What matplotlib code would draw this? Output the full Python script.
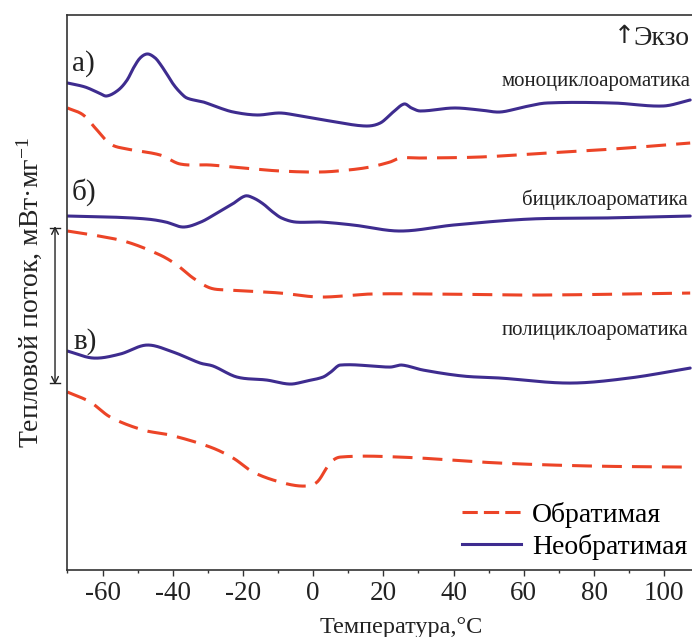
import numpy as np
import matplotlib
matplotlib.use("Agg")
import matplotlib.pyplot as plt
from matplotlib.lines import Line2D
from matplotlib.ticker import MultipleLocator

plt.rcParams['font.family'] = ['Liberation Serif', 'DejaVu Serif']
plt.rcParams['mathtext.fontset'] = 'custom'
plt.rcParams['mathtext.rm'] = 'Liberation Serif'
plt.rcParams['mathtext.it'] = 'Liberation Serif'
plt.rcParams['axes.unicode_minus'] = False

# --- DSC traces (temperature, °C / heat flow, shifted arbitrary units) ---
# а) моноциклоароматика
t_a_irr = [-70, -65, -61, -58.8, -55.5, -53, -51.2, -49.3, -47.2, -45, -43.6, -41.7,
           -39.9, -38, -36, -31.3, -27.4, -22.8, -16, -9.4, -3.7, 4.8, 14.8, 19.1,
           22.8, 25.9, 28, 30.5, 40, 47.6, 53.3, 60, 66.6, 85.5, 99.7, 107.4]
q_a_irr = [5.17, 5.13, 5.07, 5.04, 5.10, 5.20, 5.32, 5.42, 5.46, 5.42, 5.36, 5.26,
           5.16, 5.08, 5.02, 4.98, 4.93, 4.88, 4.85, 4.87, 4.84, 4.79, 4.74, 4.77,
           4.88, 4.96, 4.92, 4.89, 4.92, 4.90, 4.88, 4.93, 4.97, 4.97, 4.94, 5.00]
t_a_rev = [-70, -65.5, -61.6, -57.8, -53, -43.6, -37.9, -29.3, -19.9, -9.4, 2, 10,
           16.2, 21.9, 24.8, 30.5, 47.6, 66.6, 85.5, 107.4]
q_a_rev = [4.92, 4.85, 4.70, 4.56, 4.51, 4.45, 4.36, 4.35, 4.32, 4.29, 4.28, 4.30,
           4.33, 4.38, 4.42, 4.42, 4.43, 4.47, 4.51, 4.57]

# б) бициклоароматика
t_b_irr = [-70, -57.8, -47.4, -42, -37, -32, -27.4, -23, -19.4, -17, -14.2, -11.5,
           -9, -5.1, 2, 11.4, 24.8, 40, 61.8, 82.6, 107.4]
q_b_irr = [3.84, 3.83, 3.81, 3.78, 3.73, 3.78, 3.87, 3.96, 4.04, 4.02, 3.96, 3.88,
           3.82, 3.78, 3.78, 3.75, 3.69, 3.75, 3.81, 3.82, 3.84]
t_b_rev = [-70, -62.6, -53, -43.6, -38.8, -34.2, -29.3, -24, -18.9, -9.4, 2, 16.2,
           35.2, 63.7, 107.4]
q_b_rev = [3.69, 3.65, 3.58, 3.45, 3.35, 3.22, 3.12, 3.10, 3.09, 3.07, 3.03, 3.06,
           3.06, 3.05, 3.07]

# в) полициклоароматика
t_c_irr = [-70, -62.6, -55, -47.4, -39.9, -32.2, -28.5, -21.7, -13.2, -6.6, -2, 2.8,
           5, 7.7, 21.9, 25.3, 31.3, 42.7, 53.3, 73, 90, 107.4]
q_c_irr = [2.49, 2.42, 2.46, 2.55, 2.48, 2.37, 2.34, 2.23, 2.20, 2.16, 2.19, 2.23,
           2.28, 2.35, 2.33, 2.35, 2.30, 2.24, 2.22, 2.17, 2.22, 2.32]
t_c_rev = [-70, -63.5, -57.8, -48.4, -40.7, -29.3, -22.8, -17.1, -9.4, -2.8, 1.1, 4.8,
           7.7, 24.8, 53.3, 80, 107.4]
q_c_rev = [2.08, 1.98, 1.83, 1.70, 1.65, 1.53, 1.42, 1.28, 1.18, 1.14, 1.18, 1.37,
           1.43, 1.43, 1.37, 1.34, 1.33]

x_ticks = [-60, -40, -20, 0, 20, 40, 60, 80, 100]
panel_labels = ['а)', 'б)', 'в)']
sample_names = ['моноциклоароматика', 'бициклоароматика', 'полициклоароматика']
series_names = ['Обратимая', 'Необратимая']

RED = '#ec4427'
BLUE = '#3e2c8f'
DASH = (6.5, 3.3)
LW = 2.2


def smooth_trace(t, q, n=700):
    """Cubic Hermite rendering of a measured trace (central-difference slopes)."""
    x = np.asarray(t, float)
    y = np.asarray(q, float)
    h = np.diff(x)
    m = np.empty_like(y)
    m[0] = (y[1] - y[0]) / h[0]
    m[-1] = (y[-1] - y[-2]) / h[-1]
    m[1:-1] = (y[2:] - y[:-2]) / (x[2:] - x[:-2])
    xs = np.linspace(x[0], x[-1], n)
    i = np.clip(np.searchsorted(x, xs) - 1, 0, len(x) - 2)
    s = (xs - x[i]) / h[i]
    h00 = 2 * s**3 - 3 * s**2 + 1
    h10 = s**3 - 2 * s**2 + s
    h01 = -2 * s**3 + 3 * s**2
    h11 = s**3 - s**2
    ys = h00 * y[i] + h10 * h[i] * m[i] + h01 * y[i + 1] + h11 * h[i] * m[i + 1]
    return xs, ys


fig = plt.figure(figsize=(6.92, 6.37), dpi=100)
ax = fig.add_axes([0.0975, 0.105, 0.9638, 0.8715])

for t, q in [(t_a_rev, q_a_rev), (t_b_rev, q_b_rev), (t_c_rev, q_c_rev)]:
    ax.plot(*smooth_trace(t, q), color=RED, lw=LW, dashes=DASH)
for t, q in [(t_a_irr, q_a_irr), (t_b_irr, q_b_irr), (t_c_irr, q_c_irr)]:
    ax.plot(*smooth_trace(t, q), color=BLUE, lw=LW, solid_capstyle='round')

ax.set_xlim(-70, 120)
ax.set_ylim(0.30, 5.85)
ax.set_xticks(x_ticks)
ax.xaxis.set_minor_locator(MultipleLocator(10))
ax.set_yticks([])
ax.tick_params(axis='x', which='major', direction='out', length=4, width=1,
               labelsize=19.5, pad=4, color='#333333', labelcolor='#222222')
ax.tick_params(axis='x', which='minor', direction='out', length=2.5, width=1,
               color='#333333')
for s in ax.spines.values():
    s.set_linewidth(1.2)
    s.set_color('#333333')

ax.set_xlabel('Температура,°C', fontsize=17.5, color='#222222', labelpad=8)
ax.set_ylabel('Тепловой поток, мВт·мг$^{-1}$', fontsize=20, color='#222222',
              labelpad=17)

# panel letters and sample names
for lab, (tx, qy) in zip(panel_labels, [(-65.6, 5.36), (-65.3, 4.08), (-65.0, 2.59)]):
    ax.text(tx, qy, lab, fontsize=21, ha='center', va='center', color='#222222')
for name, (tx, qy) in zip(sample_names, [(53.6, 5.18), (59.5, 4.00), (53.6, 2.70)]):
    ax.text(tx, qy, name, fontsize=15, ha='left', va='center', color='#222222')
ax.text(85.8, 5.635, '↑', fontsize=18, ha='left', va='center', color='#222222',
        family=['DejaVu Sans'])
ax.text(91.2, 5.615, 'Экзо', fontsize=20, ha='left', va='center', color='#222222')

# scale bar beside the heat-flow axis
ax.annotate('', xy=(0.0795, 0.645), xytext=(0.0795, 0.396),
            xycoords='figure fraction', textcoords='figure fraction',
            arrowprops=dict(arrowstyle='<->', color='#222222', lw=1.0,
                            shrinkA=0, shrinkB=0, mutation_scale=12))
for yy in (0.642, 0.399):
    fig.add_artist(Line2D([0.0725, 0.0865], [yy, yy], color='#222222', lw=1.0,
                          transform=fig.transFigure))

handles = [Line2D([], [], color=RED, lw=LW, dashes=(5, 2)),
           Line2D([], [], color=BLUE, lw=LW)]
ax.legend(handles, series_names, loc='upper left', bbox_to_anchor=(0.592, 0.1225),
          frameon=False, fontsize=20, handlelength=2.1, handletextpad=0.4,
          labelspacing=0.2, borderpad=0, borderaxespad=0)

fig.savefig('out.png', dpi=100)
